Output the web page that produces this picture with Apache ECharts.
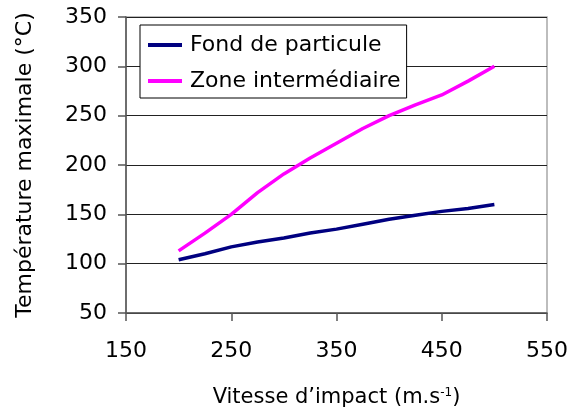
<!DOCTYPE html>
<html>
<head>
<meta charset="utf-8">
<script src="https://cdn.jsdelivr.net/npm/echarts@6/dist/echarts.min.js"></script>
<style>
  html, body { margin: 0; padding: 0; background: #fff; }
  #chart { width: 572px; height: 415px; }
</style>
</head>
<body>
<div id="chart"></div>
<script>
// Impact velocity (m/s) and peak temperature (°C) per zone
const vitesse = [200, 225, 250, 275, 300, 325, 350, 375, 400, 425, 450, 475, 500];
const fondParticule = [104, 110, 117, 122, 126, 131, 135, 140, 145, 149, 153, 156, 160];
const zoneIntermediaire = [113, 131, 150, 172, 191, 207, 222, 237, 250, 261, 271, 285, 300];
const seriesNames = ['Fond de particule', 'Zone intermédiaire'];
const seriesColors = ['#000080', '#ff00ff'];

const pairs = (xs, ys) => xs.map((x, i) => [x, ys[i]]);
const FONT = 'DejaVu Sans';

const chart = echarts.init(document.getElementById('chart'), null, { renderer: 'canvas' });
chart.setOption({
  animation: false,
  backgroundColor: '#ffffff',
  textStyle: { fontFamily: FONT, color: '#000' },
  grid: {
    left: 126, right: 25, top: 17, bottom: 102,
    show: true, borderColor: '#a8a8a8', borderWidth: 1.5, backgroundColor: 'transparent'
  },
  legend: {
    left: 140, top: 25, orient: 'vertical',
    padding: [9, 6, 6, 8],
    itemGap: 14,
    itemWidth: 34, itemHeight: 4,
    borderColor: '#000', borderWidth: 1,
    backgroundColor: '#fff',
    icon: 'rect',
    textStyle: { fontFamily: FONT, fontSize: 22, lineHeight: 22, color: '#000', padding: [0, 0, 0, 3] },
    data: seriesNames
  },
  xAxis: {
    type: 'value', min: 150, max: 550, interval: 100,
    name: '{n|Vitesse d\u2019impact (m.s}{s|-1}{n|)}',
    nameLocation: 'middle', nameGap: 74,
    nameTextStyle: {
      rich: {
        n: { fontFamily: FONT, fontSize: 21, color: '#000' },
        s: { fontFamily: FONT, fontSize: 12, color: '#000', verticalAlign: 'top', padding: [0, 0, 9, 0] }
      }
    },
    axisLine: { show: true, onZero: false, lineStyle: { color: '#555', width: 1.5 } },
    axisTick: { show: true, length: 8, lineStyle: { color: '#555', width: 1.5 } },
    axisLabel: { fontFamily: FONT, fontSize: 22, color: '#000', margin: 27 },
    splitLine: { show: false }
  },
  yAxis: {
    type: 'value', min: 50, max: 350, interval: 50,
    name: 'Température maximale (°C)',
    nameLocation: 'middle', nameGap: 90, nameRotate: 90,
    nameTextStyle: { fontFamily: FONT, fontSize: 22, color: '#000' },
    axisLine: { show: true, lineStyle: { color: '#555', width: 1.5 } },
    axisTick: { show: true, length: 8, lineStyle: { color: '#555', width: 1.5 } },
    axisLabel: { fontFamily: FONT, fontSize: 22, color: '#000', margin: 19 },
    splitLine: { show: true, lineStyle: { color: '#222', width: 1 } }
  },
  series: [
    {
      name: seriesNames[0], type: 'line', data: pairs(vitesse, fondParticule),
      showSymbol: false, symbol: 'none',
      lineStyle: { color: seriesColors[0], width: 3.5 }, itemStyle: { color: seriesColors[0] }
    },
    {
      name: seriesNames[1], type: 'line', data: pairs(vitesse, zoneIntermediaire),
      showSymbol: false, symbol: 'none',
      lineStyle: { color: seriesColors[1], width: 3.5 }, itemStyle: { color: seriesColors[1] }
    }
  ]
});
</script>
</body>
</html>
